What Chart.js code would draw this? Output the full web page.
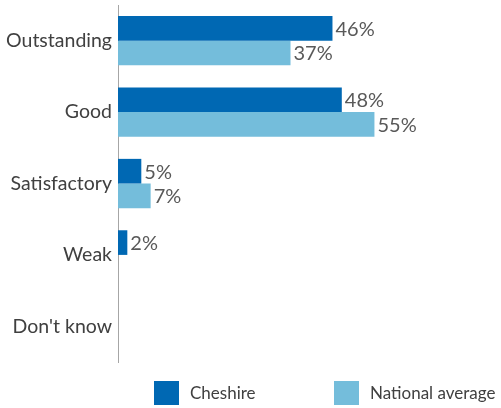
<!DOCTYPE html>
<html><head><meta charset="utf-8">
<script src="https://cdn.jsdelivr.net/npm/chart.js@4/dist/chart.umd.min.js"></script>
<style>html,body{margin:0;padding:0;background:#fff;}</style>
</head><body>
<canvas id="c" width="501" height="408"></canvas>
<script>
const categories = ["Outstanding", "Good", "Satisfactory", "Weak", "Don't know"];
const cheshire = [46, 48, 5, 2, null];
const national = [37, 55, 7, null, null];
const seriesNames = ["Cheshire", "National average"];
const seriesColors = ["#0068B3", "#74BDDB"];
const xMax = 80;

const FONT = "Lato, 'Open Sans', sans-serif";

const valueLabels = {
  id: 'valueLabels',
  afterDatasetsDraw(chart) {
    const ctx = chart.ctx;
    ctx.save();
    ctx.font = "20px " + FONT;
    ctx.fillStyle = "#595959";
    ctx.textAlign = "left";
    ctx.textBaseline = "middle";
    chart.data.datasets.forEach((ds, i) => {
      const meta = chart.getDatasetMeta(i);
      meta.data.forEach((el, j) => {
        const v = ds.data[j];
        if (v === null || v === undefined) return;
        ctx.fillText(v + "%", el.x + 3, el.y + 1);
      });
    });
    ctx.restore();
  }
};

const customLegend = {
  id: 'customLegend',
  afterDraw(chart) {
    const ctx = chart.ctx;
    ctx.save();
    ctx.font = "17px " + FONT;
    ctx.textBaseline = "middle";
    ctx.textAlign = "left";
    let x = 154;
    const y = 381, box = 24;
    chart.data.datasets.forEach((ds) => {
      ctx.fillStyle = ds.backgroundColor;
      ctx.fillRect(x, y, box + 1, box);
      ctx.fillStyle = "#404040";
      ctx.fillText(ds.label, x + box + 12, y + box / 2 + 1);
      x = 334;
    });
    ctx.restore();
  }
};

new Chart(document.getElementById('c'), {
  type: 'bar',
  data: {
    labels: categories,
    datasets: [
      { label: seriesNames[0], data: cheshire, backgroundColor: seriesColors[0] },
      { label: seriesNames[1], data: national, backgroundColor: seriesColors[1] }
    ]
  },
  options: {
    indexAxis: 'y',
    responsive: false,
    animation: false,
    layout: { padding: { top: 5, bottom: 46, right: 10, left: 0 } },
    datasets: { bar: { categoryPercentage: 0.69, barPercentage: 1.0 } },
    plugins: { legend: { display: false }, tooltip: { enabled: false } },
    scales: {
      x: { display: false, min: 0, max: xMax },
      y: {
        afterFit(scale) { scale.width = 118; scale.paddingTop = 0; scale.paddingBottom = 0; },
        grid: { display: false, drawTicks: false },
        border: { display: true, color: '#A6A6A6', width: 1 },
        ticks: { color: '#404040', font: { family: FONT, size: 19.5 }, padding: 6 }
      }
    }
  },
  plugins: [valueLabels, customLegend]
});
</script>
</body></html>
